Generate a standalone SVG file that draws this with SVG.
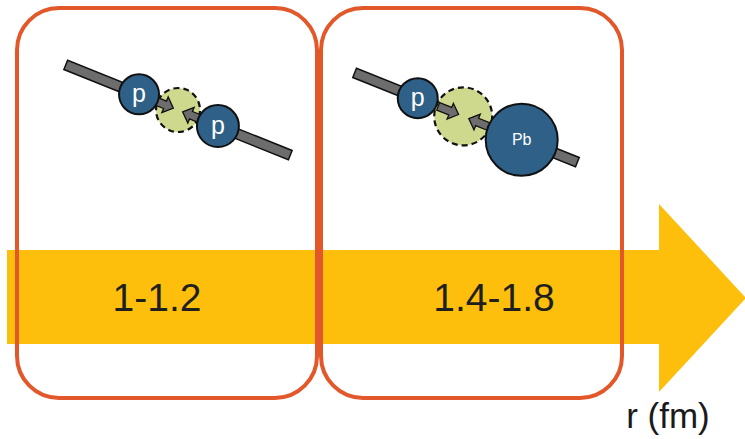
<svg xmlns="http://www.w3.org/2000/svg" width="745" height="439" viewBox="0 0 745 439">
  <style>
    .bar { fill: #6d6d6d; stroke: #111; stroke-width: 1.5; }
    .nuc { fill: #2e6088; stroke: #111; stroke-width: 2; }
    .zone { fill: #cfd98d; stroke: #111; stroke-width: 2.2; stroke-dasharray: 6 4; }
    .push { fill: #6d6d6d; stroke: #111; stroke-width: 1.3; stroke-linejoin: miter; }
    .lbl { font-family: "Liberation Sans", Arial, sans-serif; fill: #fff; text-anchor: middle; }
    .box { fill: none; stroke: #e2582b; stroke-width: 4; }
    .num { font-family: "Liberation Sans", Arial, sans-serif; font-size: 39px; fill: #1f1f1f; text-anchor: middle; }
  </style>
  <defs>
    <!-- block arrow pointing to +x, tip at origin -->
    <path id="push" d="M -22 -4 L -9 -4 L -9 -8.5 L 0 0 L -9 8.5 L -9 4 L -22 4 Z"/>
  </defs>

  <!-- radial axis -->
  <g id="axis">
    <path d="M 7 250 L 659 250 L 659 204 L 746 298 L 659 392 L 659 344 L 7 344 Z" fill="#fdbf0b"/>
  </g>

  <!-- p + p collision -->
  <g id="pp" transform="translate(178 110) rotate(21.9)">
    <rect class="bar" x="-121" y="-5" width="242" height="10"/>
    <circle class="zone" cx="0" cy="0" r="22"/>
    <use href="#push" class="push" transform="translate(-5 0)"/>
    <use href="#push" class="push" transform="translate(5 0) rotate(180)"/>
    <g transform="translate(-42 0) rotate(-21.9)">
      <circle class="nuc" r="20"/>
      <text class="lbl" y="8" font-size="25">p</text>
    </g>
    <g transform="translate(43 0) rotate(-21.9)">
      <circle class="nuc" r="21"/>
      <text class="lbl" y="8" font-size="25">p</text>
    </g>
  </g>

  <!-- p + Pb collision -->
  <g id="pPb" transform="translate(466 117.5) rotate(21.85)">
    <rect class="bar" x="-120" y="-5" width="240" height="10"/>
    <circle class="zone" cx="-3" cy="0" r="29"/>
    <use href="#push" class="push" transform="translate(-8 0)"/>
    <use href="#push" class="push" transform="translate(3 0) rotate(180)"/>
    <g transform="translate(-52 0) rotate(-21.85)">
      <circle class="nuc" r="20"/>
      <text class="lbl" y="8" font-size="25">p</text>
    </g>
    <g transform="translate(60 0) rotate(-21.85)">
      <circle class="nuc" r="36"/>
      <text class="lbl" y="5" font-size="16">Pb</text>
    </g>
  </g>

  <!-- range boxes -->
  <g id="range1">
    <rect class="box" x="17" y="8" width="300" height="390" rx="42" ry="42"/>
    <text class="num" x="157" y="311">1-1.2</text>
  </g>
  <g id="range2">
    <rect class="box" x="321" y="8" width="301" height="390" rx="42" ry="42"/>
    <text class="num" x="494" y="311">1.4-1.8</text>
  </g>

  <text x="668" y="428" font-family="Liberation Sans, Arial, sans-serif" font-size="35" fill="#1a1a1a" text-anchor="middle">r (fm)</text>
</svg>
